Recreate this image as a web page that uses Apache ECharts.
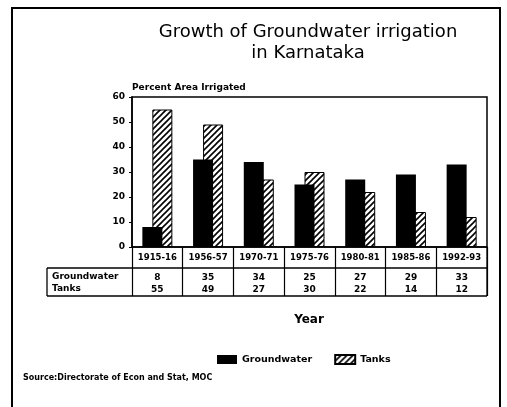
<!DOCTYPE html>
<html><head><meta charset="utf-8">
<script src="https://cdn.jsdelivr.net/npm/echarts@6/dist/echarts.min.js"></script>
<style>html,body{margin:0;padding:0;background:#fff}#c{width:507px;height:407px}</style>
</head><body><div id="c"></div>
<script>
const years = ['1915-16','1956-57','1970-71','1975-76','1980-81','1985-86','1992-93'];
const groundwater = [8, 35, 34, 25, 27, 29, 33];
const tanks = [55, 49, 27, 30, 22, 14, 12];
const yTicks = [0, 10, 20, 30, 40, 50, 60];

const F = 'DejaVu Sans';
function hatch() {
  const c = document.createElement('canvas');
  c.width = 6; c.height = 6;
  const g = c.getContext('2d');
  g.fillStyle = '#fff'; g.fillRect(0,0,6,6);
  g.strokeStyle = '#000'; g.lineWidth = 1.6;
  g.beginPath();
  g.moveTo(0,6); g.lineTo(6,0);
  g.moveTo(-3,3); g.lineTo(3,-3);
  g.moveTo(3,9); g.lineTo(9,3);
  g.stroke();
  return c;
}
const chart = echarts.init(document.getElementById('c'));
chart.setOption({
  backgroundColor: '#fff',
  animation: false,
  grid: {left: 132, right: 20, top: 97, bottom: 160, show: true, borderColor: '#000', borderWidth: 1.5},
  legend: {
    data: ['Groundwater', 'Tanks'], left: 212, top: 349, itemWidth: 20, itemHeight: 9, itemGap: 22,
    icon: 'rect', textStyle: {fontFamily: F, fontWeight: 'bold', fontSize: 9.5, color: '#000'}
  },
  xAxis: [
    {type: 'category', data: years, position: 'bottom',
     axisLine: {lineStyle: {color: '#000', width: 1.5}},
     axisTick: {show: true, interval: 0, length: 49, lineStyle: {color: '#000', width: 1.2}},
     axisLabel: {interval: 0, margin: 6, color: '#000', fontFamily: F, fontWeight: 'bold', fontSize: 8.5}},
    {type: 'category', data: groundwater.map(String), position: 'bottom', offset: 26,
     axisLine: {show: false}, axisTick: {show: false},
     axisLabel: {interval: 0, margin: 0, color: '#000', fontFamily: F, fontWeight: 'bold', fontSize: 9}},
    {type: 'category', data: tanks.map(String), position: 'bottom', offset: 38,
     axisLine: {show: false}, axisTick: {show: false},
     axisLabel: {interval: 0, margin: 0, color: '#000', fontFamily: F, fontWeight: 'bold', fontSize: 9}}
  ],
  yAxis: {
    type: 'value', min: yTicks[0], max: yTicks[yTicks.length-1], interval: 10,
    name: 'Percent Area Irrigated', nameLocation: 'end', nameGap: 5,
    nameTextStyle: {align: 'left', verticalAlign: 'bottom', color: '#000', fontFamily: F, fontWeight: 'bold', fontSize: 9},
    axisLine: {show: true, lineStyle: {color: '#000', width: 1.5}},
    axisTick: {show: true, length: 3, lineStyle: {color: '#000'}},
    splitLine: {show: false},
    axisLabel: {margin: 7, color: '#000', fontFamily: F, fontWeight: 'bold', fontSize: 9}
  },
  series: [
    {name: 'Groundwater', type: 'bar', data: groundwater, barWidth: 20, barGap: '-50%', z: 3,
     itemStyle: {color: '#000'}},
    {name: 'Tanks', type: 'bar', data: tanks, barWidth: 20, z: 2,
     itemStyle: {color: {image: hatch(), repeat: 'repeat'}, borderColor: '#000', borderWidth: 1}}
  ],
  graphic: [
    {type: 'rect', shape: {x: 12, y: 8, width: 488, height: 420}, style: {fill: null, stroke: '#000', lineWidth: 2}, silent: true},
    {type: 'text', x: 308, y: 22, style: {text: 'Growth of Groundwater irrigation\nin Karnataka', align: 'center', font: '18px "DejaVu Sans"', lineHeight: 21, fill: '#000'}},
    {type: 'line', shape: {x1: 47, y1: 268, x2: 487, y2: 268}, style: {stroke: '#000', lineWidth: 1.3}},
    {type: 'line', shape: {x1: 47, y1: 296, x2: 487, y2: 296}, style: {stroke: '#000', lineWidth: 1.3}},
    {type: 'line', shape: {x1: 47, y1: 268, x2: 47, y2: 296}, style: {stroke: '#000', lineWidth: 1.3}},
    {type: 'line', shape: {x1: 487, y1: 247, x2: 487, y2: 296}, style: {stroke: '#000', lineWidth: 1.3}},
    {type: 'text', x: 52, y: 277, style: {text: 'Groundwater', verticalAlign: 'middle', font: 'bold 9px "DejaVu Sans"', fill: '#000'}},
    {type: 'text', x: 52, y: 289, style: {text: 'Tanks', verticalAlign: 'middle', font: 'bold 9px "DejaVu Sans"', fill: '#000'}},
    {type: 'text', x: 309, y: 320, style: {text: 'Year', align: 'center', verticalAlign: 'middle', font: 'bold 12px "DejaVu Sans"', fill: '#000'}},
    {type: 'text', x: 23, y: 378, style: {text: 'Source:Directorate of Econ and Stat, MOC', verticalAlign: 'middle', font: 'bold 8px "DejaVu Sans"', fill: '#000'}}
  ]
});
</script></body></html>
